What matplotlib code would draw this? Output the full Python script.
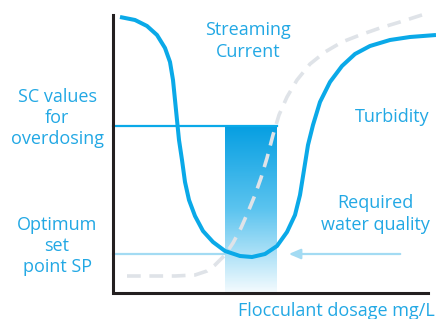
import numpy as np
import matplotlib
matplotlib.use("Agg")
import matplotlib.pyplot as plt
from matplotlib.colors import LinearSegmentedColormap

plt.rcParams["font.family"] = ["Open Sans", "DejaVu Sans"]

BLUE = "#0aa9e8"
TXT = "#22a8e4"
PALE = "#a3dbf3"
GREY = "#dfe3e8"
INK = "#231f20"

# curves (pixel coordinates, y grows downwards)
turb_x = [120, 135, 147, 157, 165, 170, 173, 175, 177, 179, 182, 185, 189, 195,
          203, 213, 225, 240, 252, 265, 277, 287, 295, 300, 304, 308, 313, 320,
          330, 342, 355, 370, 390, 410, 436]
turb_y = [17, 20, 26, 35, 48, 62, 80, 100, 120, 140, 160, 182, 200, 216,
          231, 242, 251, 256, 257, 254, 246, 232, 215, 195, 170, 145, 125, 102,
          82, 66, 54, 46, 40, 37, 35]

sc_x = [127, 150, 175, 195, 207, 215, 225, 233, 241, 248, 255, 261, 267, 273,
        279, 287, 297, 310, 325, 342, 360, 380, 400, 425]
sc_y = [276, 276, 276, 275, 271, 265, 255, 243, 228, 212, 195, 178, 158, 135,
        115, 97, 80, 64, 52, 42, 35, 28, 22, 14]

sc_overdose = 126      # SC value level
setpoint = 254         # optimum set point level
band = (225, 277)      # dosage window

fig = plt.figure(figsize=(4.36, 3.19), dpi=100)
ax = fig.add_axes([0, 0, 1, 1])
ax.set_xlim(0, 436)
ax.set_ylim(319, 0)
ax.axis("off")

# gradient window
cmap = LinearSegmentedColormap.from_list("win", ["#079fe2", "#5cc4ef", "#f4fbfe"])
grad = np.linspace(0, 1, 200).reshape(-1, 1)
ax.imshow(grad, cmap=cmap, aspect="auto", extent=[band[0], band[1], 293, sc_overdose],
          zorder=1, interpolation="bilinear")

ax.plot([113, band[1]], [sc_overdose, sc_overdose], color=BLUE, lw=1.6, zorder=2)
ax.plot([113, band[0]], [setpoint, setpoint], color=PALE, lw=1.6, zorder=2)
ax.annotate("", xy=(286, setpoint), xytext=(403, setpoint),
            arrowprops=dict(arrowstyle="-|>,head_length=0.7,head_width=0.3",
                            color=PALE, lw=1.6))

ax.plot(sc_x, sc_y, color=GREY, lw=2.6, ls=(0, (3.8, 2.4)), zorder=3)
ax.plot(turb_x, turb_y, color=BLUE, lw=2.9, zorder=4, solid_capstyle="butt")

# axes
ax.plot([113, 113, 428], [15, 293, 293], color=INK, lw=2.2, zorder=5,
        solid_joinstyle="miter")

fs = 13
ls = 1.22
ax.text(248, 41, "Streaming\nCurrent", color=TXT, fontsize=fs, ha="center",
        va="center", linespacing=ls)
ax.text(57, 118, "SC values\nfor\noverdosing", color=TXT, fontsize=fs,
        ha="center", va="center", linespacing=ls)
ax.text(392, 117, "Turbidity", color=TXT, fontsize=fs, ha="center", va="center")
ax.text(375, 214, "Required\nwater quality", color=TXT, fontsize=fs,
        ha="center", va="center", linespacing=ls)
ax.text(57, 246, "Optimum\nset\npoint SP", color=TXT, fontsize=fs,
        ha="center", va="center", linespacing=ls)
ax.text(336, 311, "Flocculant dosage mg/L", color=TXT, fontsize=fs,
        ha="center", va="center")

fig.savefig("out.png", dpi=100)
